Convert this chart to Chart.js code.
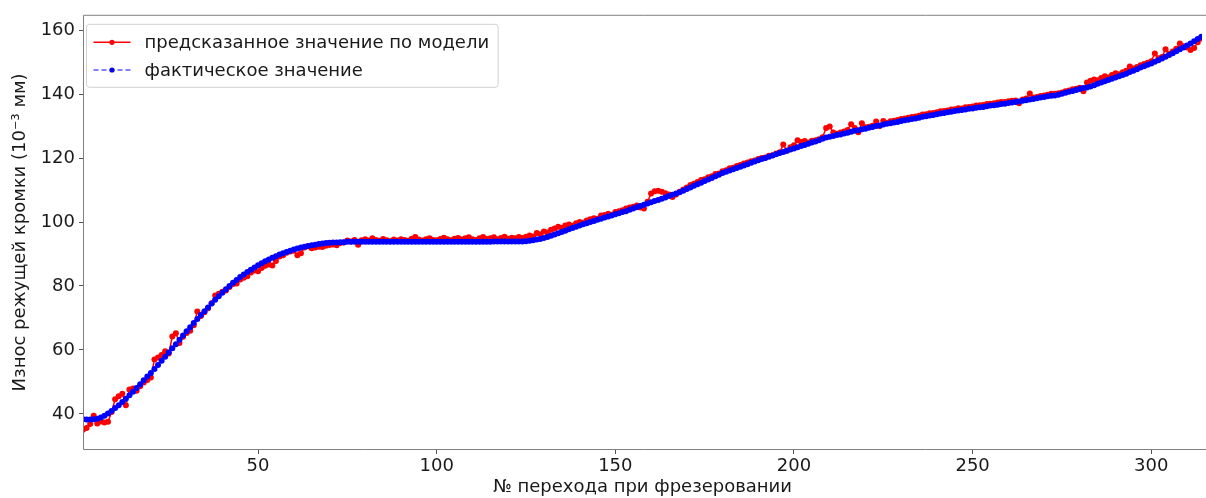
<!DOCTYPE html>
<html>
<head>
<meta charset="utf-8">
<script src="https://cdn.jsdelivr.net/npm/chart.js@4.4.1/dist/chart.umd.min.js"></script>
<style>
html, body { margin: 0; padding: 0; background: #fff; overflow: hidden; }
#wrap { width: 1206px; height: 498px; }
</style>
</head>
<body>
<div id="wrap"><canvas id="chart" width="1206" height="498"></canvas></div>
<script>
// Подписи и оси
const seriesNames = ['предсказанное значение по модели', 'фактическое значение'];
const xTitle = '№ перехода при фрезеровании';
const yTitle = 'Износ режущей кромки (10⁻³ мм)';
const xTicks = [50, 100, 150, 200, 250, 300];
const yTicks = [40, 60, 80, 100, 120, 140, 160];
const xRange = [1, 314.2];
const yRange = [28.7, 164.8];

// Предсказание модели (по номеру перехода, начиная с 1)
const predicted = [
  35.0, 35.6, 36.8, 39.4, 37.0, 37.6, 37.3, 37.5, 40.6, 44.6,
  45.5, 46.3, 42.7, 47.6, 47.9, 47.2, 48.6, 49.8, 50.6, 51.4,
  57.0, 57.6, 58.4, 59.6, 58.9, 64.2, 65.2, 62.2, 64.1, 65.3,
  66.0, 67.7, 72.0, 70.6, 71.8, 73.0, 74.6, 77.0, 77.6, 78.2,
  78.6, 79.7, 80.6, 80.8, 82.0, 82.6, 83.0, 84.2, 84.8, 84.6,
  85.6, 86.3, 86.7, 86.4, 87.8, 89.2, 89.6, 90.4, 90.8, 91.0,
  89.6, 90.2, 92.0, 92.4, 91.8, 92.0, 92.3, 92.2, 92.6, 92.8,
  93.0, 92.7, 93.4, 93.6, 94.2, 93.9, 94.4, 92.9, 94.3, 94.6,
  94.2, 94.9, 94.4, 94.1, 94.7, 94.3, 94.0, 94.5, 94.2, 94.6,
  94.4, 94.1, 94.8, 95.3, 94.5, 94.2, 94.6, 94.9, 94.4, 94.3,
  94.7, 95.1, 94.6, 94.3, 94.8, 95.0, 94.5, 94.9, 95.2, 94.6,
  94.4, 94.9, 95.3, 94.7, 94.9, 95.2, 94.6, 95.0, 95.4, 94.8,
  95.1, 94.9, 95.3, 95.0, 95.4, 95.8, 95.5, 96.6, 96.2, 97.0,
  96.7, 97.6, 98.0, 98.5, 98.2, 98.9, 99.2, 98.8, 99.6, 100.0,
  99.8, 100.5, 100.9, 101.2, 101.0, 102.0, 102.2, 102.6, 102.3, 103.1,
  103.4, 103.7, 104.2, 104.5, 104.8, 105.2, 104.5, 104.2, 106.3, 108.9,
  109.6, 109.8, 109.5, 109.0, 108.6, 107.8, 108.6, 109.5, 110.2, 110.8,
  111.6, 112.0, 112.5, 113.1, 113.4, 114.0, 114.3, 115.0, 115.2, 115.9,
  116.2, 116.8, 117.0, 117.5, 117.8, 118.3, 118.6, 119.0, 119.2, 119.7,
  120.0, 120.2, 120.7, 120.9, 121.4, 121.8, 124.2, 122.3, 123.4, 124.0,
  125.6, 125.0, 125.3, 124.8, 125.4, 125.6, 125.9, 126.5, 129.4, 129.9,
  128.0, 127.6, 128.0, 128.3, 128.8, 130.6, 129.4, 128.1, 130.9, 129.6,
  129.8, 130.1, 131.4, 130.0, 131.6, 131.0, 131.5, 131.7, 131.9, 132.2,
  132.4, 132.6, 132.8, 133.0, 133.2, 133.6, 133.7, 134.0, 134.1, 134.3,
  134.6, 134.7, 134.9, 135.2, 135.3, 135.6, 135.5, 135.9, 136.0, 136.1,
  136.4, 136.5, 136.6, 136.9, 137.0, 137.1, 137.4, 137.5, 137.5, 137.8,
  137.9, 138.0, 137.1, 138.3, 138.6, 140.2, 138.9, 139.1, 139.4, 139.6,
  139.8, 140.1, 140.1, 140.3, 140.5, 140.9, 141.1, 141.5, 141.7, 142.0,
  140.9, 143.6, 144.2, 144.6, 144.3, 145.0, 145.6, 145.2, 146.0, 146.5,
  146.2, 146.8, 147.3, 148.6, 148.0, 148.5, 149.0, 149.4, 149.8, 150.3,
  152.7, 151.2, 151.6, 154.0, 152.6, 153.3, 154.2, 155.8, 155.0, 154.6,
  153.8, 154.4, 156.2, 157.4
];

// Фактический износ
const actual = [
  38.3, 38.2, 38.2, 38.3, 38.5, 38.9, 39.4, 40.1, 40.9, 41.8,
  42.7, 43.7, 44.7, 45.8, 46.9, 48.1, 49.3, 50.5, 51.7, 52.8,
  54.0, 55.3, 56.6, 57.9, 59.2, 60.5, 61.8, 63.2, 64.5, 65.8,
  67.1, 68.4, 69.7, 70.9, 72.1, 73.3, 74.5, 75.7, 76.8, 77.9,
  79.0, 80.0, 81.0, 81.9, 82.8, 83.6, 84.4, 85.1, 85.8, 86.5,
  87.1, 87.7, 88.3, 88.8, 89.3, 89.8, 90.2, 90.6, 91.0, 91.4,
  91.7, 92.0, 92.3, 92.5, 92.7, 92.9, 93.1, 93.3, 93.4, 93.5,
  93.6, 93.6, 93.7, 93.7, 93.8, 93.8, 93.8, 93.8, 93.8, 93.8,
  93.8, 93.8, 93.8, 93.8, 93.8, 93.8, 93.8, 93.8, 93.8, 93.8,
  93.8, 93.8, 93.8, 93.8, 93.8, 93.8, 93.8, 93.8, 93.8, 93.8,
  93.8, 93.8, 93.8, 93.8, 93.8, 93.8, 93.8, 93.8, 93.8, 93.8,
  93.8, 93.8, 93.8, 93.8, 93.8, 93.9, 93.9, 93.9, 93.9, 93.9,
  93.9, 93.9, 93.9, 93.9, 94.0, 94.1, 94.3, 94.5, 94.7, 95.0,
  95.3, 95.7, 96.1, 96.5, 96.9, 97.3, 97.7, 98.1, 98.5, 98.9,
  99.3, 99.6, 100.0, 100.3, 100.7, 101.0, 101.4, 101.7, 102.0, 102.4,
  102.7, 103.1, 103.4, 103.8, 104.2, 104.6, 105.0, 105.4, 105.8, 106.2,
  106.6, 106.9, 107.3, 107.7, 108.1, 108.5, 108.9, 109.3, 109.8, 110.3,
  110.8, 111.3, 111.8, 112.3, 112.8, 113.3, 113.8, 114.3, 114.8, 115.3,
  115.7, 116.1, 116.5, 116.9, 117.3, 117.7, 118.1, 118.5, 118.9, 119.3,
  119.7, 120.0, 120.4, 120.8, 121.2, 121.6, 121.9, 122.3, 122.7, 123.0,
  123.4, 123.8, 124.1, 124.5, 124.9, 125.2, 125.6, 126.0, 126.4, 126.7,
  126.9, 127.2, 127.4, 127.7, 127.9, 128.2, 128.5, 128.7, 129.0, 129.2,
  129.5, 129.7, 130.0, 130.2, 130.5, 130.7, 130.9, 131.1, 131.3, 131.6,
  131.8, 132.0, 132.2, 132.4, 132.6, 132.9, 133.1, 133.3, 133.5, 133.7,
  133.9, 134.1, 134.3, 134.5, 134.7, 134.9, 135.0, 135.2, 135.4, 135.5,
  135.7, 135.9, 136.0, 136.2, 136.4, 136.5, 136.7, 136.9, 137.0, 137.2,
  137.4, 137.5, 137.7, 137.9, 138.1, 138.3, 138.5, 138.7, 138.9, 139.1,
  139.3, 139.5, 139.6, 139.8, 140.1, 140.4, 140.7, 141.0, 141.3, 141.6,
  141.9, 142.1, 142.4, 142.8, 143.2, 143.6, 144.0, 144.4, 144.8, 145.2,
  145.6, 146.0, 146.4, 146.9, 147.3, 147.8, 148.3, 148.7, 149.2, 149.6,
  150.1, 150.6, 151.1, 151.7, 152.2, 152.8, 153.4, 154.0, 154.6, 155.2,
  155.8, 156.5, 157.2, 157.9
];

const FONT = 'DejaVu Sans';
const textColor = '#1a1a1a';

// Рамка (без правой стороны — картинка обрезана) и легенда как в matplotlib
const frameAndLegend = {
  id: 'frameAndLegend',
  afterDraw(chart) {
    const ctx = chart.ctx;
    const a = chart.chartArea;
    ctx.save();
    ctx.strokeStyle = '#808080';
    ctx.lineWidth = 1;
    ctx.beginPath();
    ctx.moveTo(chart.width, a.top + 0.5);
    ctx.lineTo(a.left + 0.5, a.top + 0.5);
    ctx.lineTo(a.left + 0.5, a.bottom - 0.5);
    ctx.lineTo(chart.width, a.bottom - 0.5);
    ctx.stroke();

    const ds = chart.data.datasets;
    ctx.font = '18px ' + FONT;
    const textW = Math.max(...ds.map(d => ctx.measureText(d.label).width));
    const bx = a.left + 3.5, by = a.top + 9.5;
    const lineX0 = bx + 7, lineLen = 37, textX = lineX0 + lineLen + 14;
    const rowH = 27.7;
    const bw = textX - bx + textW + 9, bh = 63;

    ctx.fillStyle = 'rgba(255,255,255,0.8)';
    ctx.strokeStyle = '#d0d0d0';
    ctx.beginPath();
    ctx.roundRect(bx, by, bw, bh, 3);
    ctx.fill();
    ctx.stroke();

    ds.forEach((d, i) => {
      const cy = by + 18 + i * rowH;
      ctx.strokeStyle = d.borderColor;
      ctx.lineWidth = d.borderWidth;
      ctx.setLineDash(d.borderDash || []);
      ctx.beginPath();
      ctx.moveTo(lineX0, cy);
      ctx.lineTo(lineX0 + lineLen, cy);
      ctx.stroke();
      ctx.setLineDash([]);
      ctx.fillStyle = d.pointBackgroundColor;
      ctx.beginPath();
      ctx.arc(lineX0 + lineLen / 2, cy, 2.6, 0, Math.PI * 2);
      ctx.fill();
      ctx.fillStyle = textColor;
      ctx.textBaseline = 'middle';
      ctx.textAlign = 'left';
      ctx.fillText(d.label, textX, cy + 1);
    });
    ctx.restore();
  }
};

const ctx = document.getElementById('chart').getContext('2d');
new Chart(ctx, {
  type: 'line',
  data: {
    datasets: [
      {
        label: seriesNames[0],
        data: predicted.map((v, i) => ({ x: i + 1, y: v })),
        borderColor: '#ff0000',
        backgroundColor: '#ff0000',
        pointBackgroundColor: '#ff0000',
        borderWidth: 1.5,
        pointRadius: 3,
        pointBorderWidth: 0,
        tension: 0,
        order: 2
      },
      {
        label: seriesNames[1],
        data: actual.map((v, i) => ({ x: i + 1, y: v })),
        borderColor: '#0000ff',
        backgroundColor: '#0000ff',
        pointBackgroundColor: '#0000ff',
        borderWidth: 1.2,
        borderDash: [5, 3],
        pointRadius: 3,
        pointBorderWidth: 0,
        tension: 0,
        order: 1
      }
    ]
  },
  options: {
    responsive: false,
    animation: false,
    devicePixelRatio: 1,
    layout: { padding: { top: 11, right: 0, left: 0, bottom: 0 } },
    plugins: {
      legend: { display: false },
      tooltip: { enabled: false }
    },
    scales: {
      x: {
        type: 'linear',
        min: xRange[0],
        max: xRange[1],
        afterBuildTicks: s => { s.ticks = xTicks.map(v => ({ value: v })); },
        afterFit: s => { s.height = 48; s.paddingRight = 0; },
        grid: { drawOnChartArea: false, drawTicks: true, tickLength: 4, color: '#555' },
        border: { display: false },
        ticks: { color: textColor, font: { family: FONT, size: 18 }, padding: 2, maxRotation: 0 },
        title: { display: true, text: xTitle, color: textColor, font: { family: FONT, size: 18 }, padding: { top: 0, bottom: 0 } }
      },
      y: {
        type: 'linear',
        min: yRange[0],
        max: yRange[1],
        afterBuildTicks: s => { s.ticks = yTicks.map(v => ({ value: v })); },
        afterFit: s => { s.width = 83; },
        grid: { drawOnChartArea: false, drawTicks: true, tickLength: 4, color: '#555' },
        border: { display: false },
        ticks: { color: textColor, font: { family: FONT, size: 18 }, padding: 4 },
        title: { display: true, text: yTitle, color: textColor, font: { family: FONT, size: 18 }, padding: { top: 10, bottom: 0 } }
      }
    }
  },
  plugins: [frameAndLegend]
});
</script>
</body>
</html>
